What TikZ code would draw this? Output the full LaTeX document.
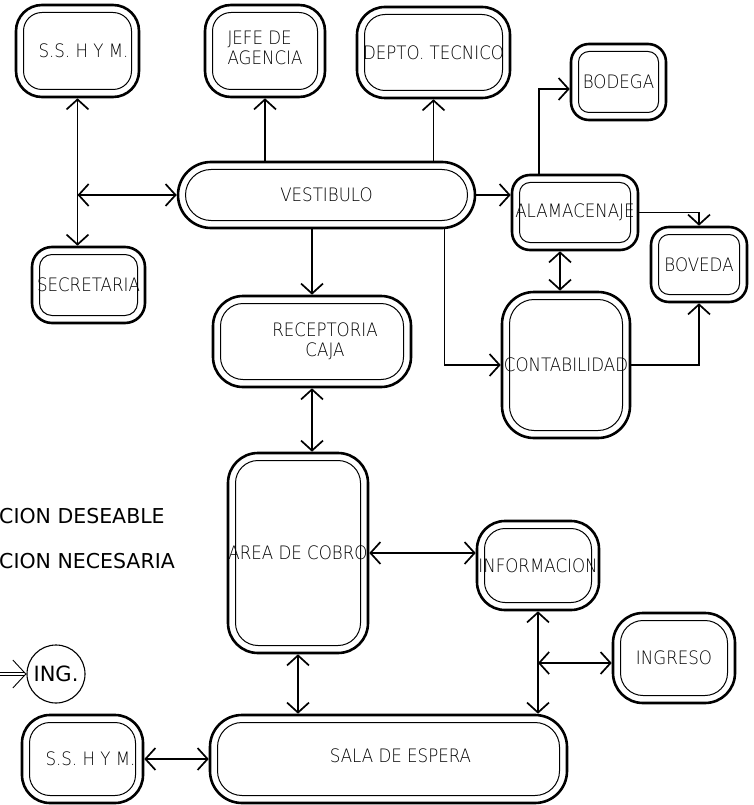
\documentclass[tikz,border=0pt]{standalone}
\usepackage{fontspec}
\setmainfont{DejaVu Sans}
\newfontfamily\cad{DejaVu Sans ExtraLight}[FakeStretch=0.9]
\usetikzlibrary{arrows.meta}
\begin{document}
\begin{tikzpicture}[x=1pt,y=-1pt,
  room/.style={draw, line width=2.6pt, inner sep=0pt, rounded corners=#1,
    font=\cad\fontsize{18.5}{20}\selectfont, align=center,
    path picture={\draw[line width=1pt, rounded corners=#1-7.5pt]
      ([shift={(7.5pt,-7.5pt)}]path picture bounding box.north west) rectangle
      ([shift={(-7.5pt,7.5pt)}]path picture bounding box.south east);}},
  conn/.style={line width=1.7pt},
  legend/.style={font=\fontsize{20.5}{24}\selectfont, inner sep=0pt},
  >={Straight Barb[length=10pt,width=22pt]},
]
\useasboundingbox (0,0) rectangle (754,805);

% rooms
\node[room=26pt, minimum width=123pt, minimum height=92pt] (sshymA) at (77.5,51) {\hspace*{12pt}S.S. H Y M.};
\node[room=26pt, minimum width=120pt, minimum height=92pt, align=left] (jefe) at (265,51) {\raisebox{6pt}{\begin{tabular}{@{}l@{}}JEFE DE\\AGENCIA\end{tabular}}};
\node[room=28pt, minimum width=153pt, minimum height=91pt] (depto) at (433.5,52.5) {DEPTO. TECNICO};
\node[room=33pt, minimum width=297pt, minimum height=66pt] (vest) at (326.5,195) {VESTIBULO};
\node[room=20pt, minimum width=113pt, minimum height=76pt] (secret) at (88.5,285) {SECRETARIA};
\node[room=18pt, minimum width=95pt, minimum height=76pt] (bodega) at (618.5,82) {BODEGA};
\node[room=18pt, minimum width=126pt, minimum height=75pt] (alam) at (575,212.5) {ALAMACENAJE};
\node[room=18pt, minimum width=96pt, minimum height=75pt] (boveda) at (699,264.5) {BOVEDA};
\node[room=30pt, minimum width=198pt, minimum height=91pt] (recep) at (312,341.5) {\hspace*{26pt}RECEPTORIA\\\hspace*{26pt}CAJA};
\node[room=32pt, minimum width=128pt, minimum height=146pt] (contab) at (566,365) {CONTABILIDAD};
\node[room=30pt, minimum width=140pt, minimum height=200pt] (area) at (298,553) {AREA DE COBRO};
\node[room=28pt, minimum width=122pt, minimum height=89pt] (info) at (538,565.5) {INFORMACION};
\node[room=30pt, minimum width=122pt, minimum height=90pt] (ingreso) at (674,658) {INGRESO};
\node[room=32pt, minimum width=357pt, minimum height=88pt] (sala) at (388.5,759) {\raisebox{7pt}{\hspace*{24pt}SALA DE ESPERA}};
\node[room=28pt, minimum width=121pt, minimum height=88pt] (sshymB) at (82.5,759) {\hspace*{16pt}S.S. H Y M.};

% connectors
\coordinate (j1) at (sshymA.south |- vest.west);
\draw[conn,<->] (sshymA.south) -- (sshymA.south |- secret.north);
\draw[conn,<->] (j1) -- (vest.west);
\draw[conn,->] (jefe.south |- vest.north) -- (jefe.south);
\draw[conn,->] (depto.south |- vest.north) -- (depto.south);
\draw[conn,->] (vest.east) -- (vest.east -| alam.west);
\draw[conn,->] (recep.north |- vest.south) -- (recep.north);
\draw[conn,->] ([xshift=118pt]vest.south) |- (contab.west);
\coordinate (bw) at ([yshift=-7pt]bodega.west);
\draw[conn,->] ([xshift=-36pt]alam.north) |- (bw);
\draw[conn,->] (alam.east) -| (boveda.north);
\coordinate (ca) at ([xshift=-6pt]contab.north);
\draw[conn,<->] (ca |- alam.south) -- (ca);
\draw[conn,->] (contab.east) -| (boveda.south);
\draw[conn,<->] (recep.south) -- (recep.south |- area.north);
\draw[conn,<->] (area.east) -- (area.east -| info.west);
\draw[conn,<->] (info.south) -- (info.south |- sala.north);
\coordinate (j2w) at ([yshift=-5pt]ingreso.west);
\coordinate (j2) at (info.south |- j2w);
\draw[conn,<->] (j2) -- (j2w);
\draw[conn,<->] (area.south) -- (area.south |- sala.north);
\draw[conn,<->] (sshymB.east) -- (sshymB.east -| sala.west);

% legend
\node[legend, anchor=west] (leg1) at (-1,516) {CION DESEABLE};
\node[legend, anchor=west] (leg2) at (-1,561) {CION NECESARIA};
\node[draw, circle, line width=1.1pt, minimum size=58pt, inner sep=0pt,
      font=\fontsize{21}{24}\selectfont] (ing) at (56,674) {ING.};
\coordinate (ingsrc) at (-2,674);
\draw[line width=0.9pt, double, double distance=1.6pt,
      -{Straight Barb[length=13pt,width=28pt]}] (ingsrc) -- (ing.west);
\end{tikzpicture}
\end{document}
